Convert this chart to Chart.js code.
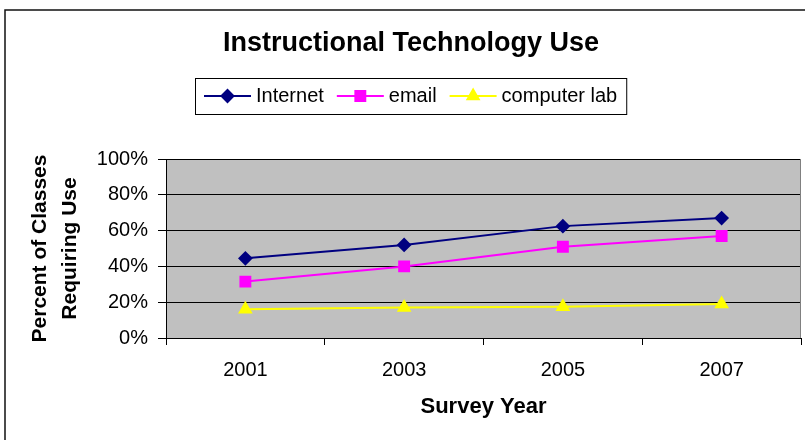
<!DOCTYPE html>
<html>
<head>
<meta charset="utf-8">
<script src="https://cdn.jsdelivr.net/npm/chart.js@4/dist/chart.umd.min.js"></script>
<style>
  html, body { margin: 0; padding: 0; background: #fff; overflow: hidden; }
  #wrap { width: 805px; height: 440px; position: relative; }
  canvas { display: block; }
</style>
</head>
<body>
<div id="wrap"><canvas id="techUse" width="805" height="440"></canvas></div>
<script>
// survey data
var years = ["2001", "2003", "2005", "2007"]
var internet = [44.5, 52, 62.5, 67]
var email = [31.5, 40, 51, 57]
var computerLab = [16, 17, 17.5, 19]
var yTicks = [0, 20, 40, 60, 80, 100]

var FONT = 'Arial, "Liberation Sans", sans-serif'
Chart.defaults.font.family = FONT
Chart.defaults.color = '#000'

// frame, plot background, title and boxed legend
var decor = {
	id: 'decor',
	beforeDraw: function (chart) {
		var ctx = chart.ctx, a = chart.chartArea
		ctx.save()
		ctx.fillStyle = '#fff'
		ctx.fillRect(0, 0, chart.width, chart.height)
		ctx.strokeStyle = '#111'
		ctx.lineWidth = 1.5
		ctx.beginPath()
		ctx.moveTo(5, chart.height)
		ctx.lineTo(5, 10)
		ctx.lineTo(chart.width, 10)
		ctx.stroke()
		ctx.fillStyle = '#C0C0C0'
		ctx.fillRect(a.left, a.top, a.right - a.left, a.bottom - a.top)
		ctx.restore()
	},
	afterDraw: function (chart) {
		var ctx = chart.ctx, a = chart.chartArea
		ctx.save()
		// right edge of plot
		ctx.strokeStyle = '#808080'
		ctx.lineWidth = 1
		ctx.beginPath()
		ctx.moveTo(a.right - 0.5, a.top)
		ctx.lineTo(a.right - 0.5, a.bottom)
		ctx.stroke()

		var cx = 411
		ctx.fillStyle = '#000'
		ctx.textAlign = 'center'
		ctx.textBaseline = 'middle'
		ctx.font = 'bold 27px ' + FONT
		ctx.fillText('Instructional Technology Use', cx, 44)

		// legend
		ctx.font = '20px ' + FONT
		var sets = chart.data.datasets
		var lineLen = 47, gap = 5, itemGap = 13, padL = 9, padR = 9
		var total = padL + padR
		sets.forEach(function (ds, i) {
			total += lineLen + gap + ctx.measureText(ds.label).width
			if (i < sets.length - 1) total += itemGap
		})
		var left = Math.round(cx - total / 2)
		var top = 78, h = 36, my = top + h / 2
		ctx.strokeStyle = '#000'
		ctx.lineWidth = 1
		ctx.strokeRect(left + 0.5, top + 0.5, total, h)
		var x = left + padL
		ctx.textAlign = 'left'
		sets.forEach(function (ds) {
			ctx.strokeStyle = ds.borderColor
			ctx.lineWidth = 2
			ctx.beginPath()
			ctx.moveTo(x, my)
			ctx.lineTo(x + lineLen, my)
			ctx.stroke()
			ctx.fillStyle = ds.pointBackgroundColor
			ctx.strokeStyle = ds.pointBorderColor
			Chart.helpers.drawPoint(ctx, {
				pointStyle: ds.pointStyle,
				radius: ds.pointRadius,
				rotation: 0,
				borderWidth: 1
			}, x + lineLen / 2, my)
			x += lineLen + gap
			ctx.fillStyle = '#000'
			ctx.fillText(ds.label, x, my)
			x += ctx.measureText(ds.label).width + itemGap
		})
		ctx.restore()
	}
}

var ctxL = document.getElementById('techUse').getContext('2d')
var techChart = new Chart(ctxL, {
	type: 'line',
	data: {
		labels: years,
		datasets: [
			{
				label: 'Internet',
				data: internet,
				borderColor: '#000080',
				backgroundColor: '#000080',
				pointBackgroundColor: '#000080',
				pointBorderColor: '#000080',
				pointStyle: 'rectRot',
				pointRadius: 6,
				borderWidth: 2
			},
			{
				label: 'email',
				data: email,
				borderColor: '#FF00FF',
				backgroundColor: '#FF00FF',
				pointBackgroundColor: '#FF00FF',
				pointBorderColor: '#FF00FF',
				pointStyle: 'rect',
				pointRadius: 7,
				borderWidth: 2
			},
			{
				label: 'computer lab',
				data: computerLab,
				borderColor: '#FFFF00',
				backgroundColor: '#FFFF00',
				pointBackgroundColor: '#FFFF00',
				pointBorderColor: '#FFFF00',
				pointStyle: 'triangle',
				pointRadius: 6.5,
				borderWidth: 2
			}
		]
	},
	options: {
		responsive: false,
		animation: false,
		layout: { autoPadding: false, padding: { top: 159, right: 4, left: 0, bottom: 0 } },
		plugins: {
			legend: { display: false },
			title: { display: false },
			tooltip: { enabled: false }
		},
		scales: {
			x: {
				offset: true,
				afterFit: function (scale) {
					scale.height = 102
					scale.paddingLeft = 0
					scale.paddingRight = 0
				},
				grid: {
					offset: true,
					drawOnChartArea: false,
					drawTicks: true,
					tickLength: 7,
					color: '#000'
				},
				border: { color: '#000', width: 1 },
				ticks: { font: { size: 20 }, padding: 13, color: '#000', maxRotation: 0 },
				title: {
					display: true,
					text: 'Survey Year',
					font: { size: 22, weight: 'bold' },
					padding: { top: 0, bottom: 20 },
					color: '#000'
				}
			},
			y: {
				min: 0,
				max: 100,
				afterFit: function (scale) {
					scale.width = 166
					scale.paddingTop = 0
					scale.paddingBottom = 0
				},
				afterBuildTicks: function (scale) {
					scale.ticks = yTicks.map(function (v) { return { value: v } })
				},
				grid: { color: '#000', tickLength: 8, lineWidth: 1 },
				border: { color: '#000', width: 1 },
				ticks: {
					font: { size: 20 },
					padding: 10,
					color: '#000',
					callback: function (v) { return v + '%' }
				},
				title: {
					display: true,
					text: ['Percent of Classes', 'Requiring Use'],
					font: { size: 21, weight: 'bold', lineHeight: 1.4 },
					padding: { top: 26, bottom: 0 },
					color: '#000'
				}
			}
		}
	},
	plugins: [decor]
})
</script>
</body>
</html>
